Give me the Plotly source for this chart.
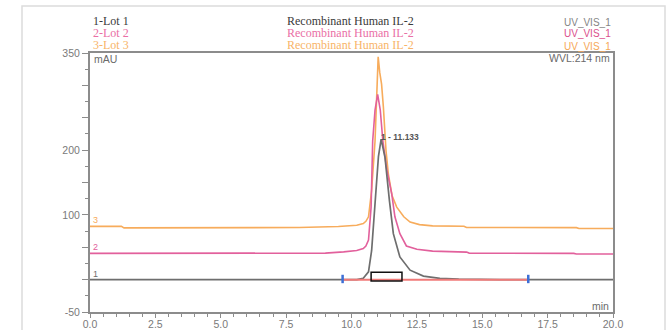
import plotly.graph_objects as go

# Chromatogram overlay, Recombinant Human IL-2, three lots (UV_VIS_1, 214 nm)
lot_names = ["1-Lot 1", "2-Lot 2", "3-Lot 3"]
sample_name = "Recombinant Human IL-2"
channel = "UV_VIS_1"

lot1_time = [0.0, 10.2, 10.45, 10.65, 10.77, 10.96, 11.03, 11.133, 11.2, 11.28, 11.45,
             11.6, 11.85, 12.24, 12.75, 13.38, 14.1, 15.0, 15.7, 20.0]
lot1_mau = [0.0, 0.0, 2.0, 12.0, 45.0, 148.0, 190.0, 217.0, 206.0, 189.0, 122.0,
            71.0, 35.0, 14.6, 5.4, 2.0, 0.7, 0.2, 0.0, 0.0]

lot2_time = [0.0, 8.0, 9.0, 9.7, 10.2, 10.45, 10.55, 10.65, 10.75, 10.81, 10.9, 11.0,
             11.1, 11.2, 11.35, 11.54, 11.66, 11.85, 12.1, 12.5, 13.1, 14.4, 14.5,
             18.5, 18.6, 20.0]
lot2_mau = [40.5, 40.0, 41.0, 42.8, 45.0, 48.0, 52.0, 61.0, 112.0, 214.0, 262.0, 286.0,
            262.0, 214.0, 170.0, 132.0, 97.0, 71.0, 52.0, 47.0, 44.0, 42.5, 41.0,
            40.5, 39.5, 39.5]

lot3_time = [0.0, 1.2, 1.3, 8.0, 9.5, 10.2, 10.45, 10.55, 10.65, 10.77, 10.9, 10.96,
             11.02, 11.08, 11.15, 11.22, 11.32, 11.41, 11.55, 11.73, 12.0, 12.24, 12.6,
             13.1, 14.3, 14.4, 18.6, 18.7, 20.0]
lot3_mau = [82.3, 82.3, 80.0, 80.5, 82.0, 84.0, 86.5, 90.0, 97.0, 138.0, 214.0, 290.0,
            344.0, 320.0, 302.0, 266.0, 199.0, 163.0, 130.0, 112.0, 97.0, 89.0, 85.0,
            83.0, 82.5, 80.5, 80.3, 79.0, 79.0]

peak_rt = 11.133
peak_height = 217.0
integration_start = 9.66
integration_end = 16.76
window_start = 10.75
window_end = 11.93
window_low = -2.3
window_high = 11.5

c1, c2, c3 = "#6e6e6e", "#e2609c", "#f7ac5c"
hdr1, hdr2, hdr3 = "#3a3a3a", "#ea6fa5", "#f8b468"
axis_grey = "#8c8c8c"
label_grey = "#7a7a7a"

fig = go.Figure()
fig.add_trace(go.Scatter(x=lot3_time, y=lot3_mau, mode="lines",
                         line=dict(color=c3, width=1.6), hoverinfo="skip"))
fig.add_trace(go.Scatter(x=lot2_time, y=lot2_mau, mode="lines",
                         line=dict(color=c2, width=1.6), hoverinfo="skip"))
fig.add_trace(go.Scatter(x=lot1_time, y=lot1_mau, mode="lines",
                         line=dict(color=c1, width=1.7), hoverinfo="skip"))
# integration baseline and delimiters
fig.add_trace(go.Scatter(x=[integration_start, integration_end], y=[0, 0], mode="lines",
                         line=dict(color="#f07a78", width=2), hoverinfo="skip"))
fig.add_trace(go.Scatter(x=[integration_start, integration_end], y=[1, 1], mode="markers",
                         marker=dict(symbol="line-ns", size=6,
                                     line=dict(color="#3d6fd6", width=2.5)),
                         hoverinfo="skip"))

fig.add_shape(type="rect", xref="x", yref="y", x0=window_start, x1=window_end,
              y0=window_low, y1=window_high, line=dict(color="#111111", width=1.5))

# plot area spans 90..613 px horizontally, 53..312 px vertically
L, R, T, B = 90, 613, 53, 312


def px(xp):
    return (xp - L) / (R - L)


def py(yp):
    return (B - yp) / (B - T)


# outer frame
fig.add_shape(type="rect", xref="paper", yref="paper", x0=px(22), x1=px(665),
              y0=py(345), y1=py(6), line=dict(color="#dcdcdc", width=1.5), layer="below")

serif = "Liberation Serif, Times New Roman, serif"
sans = "Liberation Sans, Arial, sans-serif"
rows_y = [21, 33, 45]
hdr_cols = [hdr1, hdr2, hdr3]
chan_cols = ["#858585", "#db4f8c", "#f6a858"]
for i in range(3):
    fig.add_annotation(xref="paper", yref="paper", x=px(91), y=py(rows_y[i]),
                       text=lot_names[i], showarrow=False, xanchor="left", yanchor="middle",
                       font=dict(family=serif, size=12, color=hdr_cols[i]))
    fig.add_annotation(xref="paper", yref="paper", x=px(350), y=py(rows_y[i]),
                       text=sample_name, showarrow=False, xanchor="center", yanchor="middle",
                       font=dict(family=serif, size=12, color=hdr_cols[i]))
    fig.add_annotation(xref="paper", yref="paper", x=px(613), y=py(rows_y[i] + 1),
                       text=channel, showarrow=False, xanchor="right", yanchor="middle",
                       font=dict(family=sans, size=10, color=chan_cols[i]))

fig.add_annotation(xref="paper", yref="paper", x=px(612), y=py(58), text="WVL:214 nm",
                   showarrow=False, xanchor="right", yanchor="middle",
                   font=dict(family=sans, size=10.5, color="#6a6a6a"))
fig.add_annotation(xref="paper", yref="paper", x=px(92), y=py(59), text="mAU",
                   showarrow=False, xanchor="left", yanchor="middle",
                   font=dict(family=sans, size=10.5, color="#6a6a6a"))
fig.add_annotation(xref="paper", yref="paper", x=px(611), y=py(306), text="min",
                   showarrow=False, xanchor="right", yanchor="middle",
                   font=dict(family=sans, size=10.5, color="#6a6a6a"))

# peak label
fig.add_annotation(x=peak_rt, y=peak_height, text=f"<b>1 - {peak_rt:.3f}</b>", showarrow=False,
                   xanchor="left", yanchor="bottom", xshift=-2, yshift=-5,
                   font=dict(family=sans, size=8.5, color="#555555"))

# trace numbers
for num, base, col in [("1", lot1_mau[0], c1), ("2", lot2_mau[0], c2), ("3", lot3_mau[0], c3)]:
    fig.add_annotation(x=0.05, y=base, text=num, showarrow=False, xanchor="left",
                       yanchor="bottom", yshift=-1,
                       font=dict(family=sans, size=9, color=col))

y_major = [-50, 0, 50, 100, 150, 200, 250, 300, 350]
y_labels = ["-50", "", "", "100", "", "200", "", "", "350"]
x_major = [0.0, 2.5, 5.0, 7.5, 10.0, 12.5, 15.0, 17.5, 20.0]
x_labels = [f"{v:.1f}" for v in x_major]

fig.update_xaxes(range=[0, 20], tickvals=x_major, ticktext=x_labels, ticks="outside",
                 ticklen=4, tickwidth=1.2, tickcolor=axis_grey, showline=True,
                 linecolor=axis_grey, linewidth=2, mirror=True, showgrid=False,
                 zeroline=False, automargin=False, ticklabelstandoff=-3,
                 tickfont=dict(family=sans, size=10.5, color=label_grey),
                 minor=dict(dtick=0.5, tick0=0, ticks="outside", ticklen=2.5,
                            tickcolor=axis_grey, showgrid=False))
fig.update_yaxes(range=[-50, 350], tickvals=y_major, ticktext=y_labels, ticks="outside",
                 ticklen=6, tickwidth=1.2, tickcolor=axis_grey, showline=True,
                 linecolor=axis_grey, linewidth=2, mirror=True, showgrid=False,
                 zeroline=False, automargin=False,
                 tickfont=dict(family=sans, size=10.5, color=label_grey),
                 minor=dict(dtick=25, tick0=0, ticks="outside", ticklen=3,
                            tickcolor=axis_grey, showgrid=False))

fig.update_layout(width=671, height=330, showlegend=False,
                  margin=dict(l=L, r=671 - R, t=T, b=330 - B),
                  paper_bgcolor="white", plot_bgcolor="white")

fig.write_html("out.html")
